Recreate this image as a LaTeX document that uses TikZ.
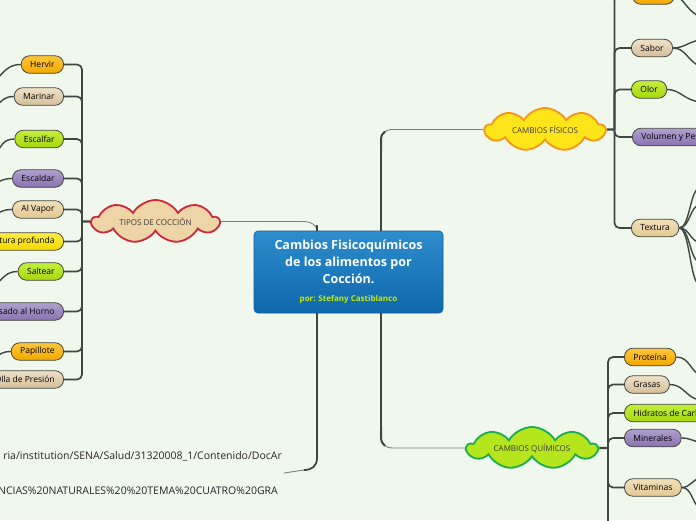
\documentclass[tikz,border=0pt]{standalone}
\usepackage{fontspec}
\setmainfont{Open Sans}
\usetikzlibrary{shapes.symbols,calc}
\definecolor{bg}{HTML}{F0F8EE}
\definecolor{edge}{HTML}{45483E}
\definecolor{spine}{HTML}{3E4842}
\definecolor{thinline}{HTML}{7A827C}
\definecolor{oT}{HTML}{FFC63A}\definecolor{oB}{HTML}{F2A900}
\definecolor{tT}{HTML}{EEE0C8}\definecolor{tB}{HTML}{D5BF9A}
\definecolor{lT}{HTML}{C4EF3C}\definecolor{lB}{HTML}{A6D80E}
\definecolor{pT}{HTML}{B0A0CE}\definecolor{pB}{HTML}{8A72B0}
\definecolor{bT}{HTML}{F3E0BB}\definecolor{bB}{HTML}{E3C893}
\definecolor{yT}{HTML}{FFEC45}\definecolor{yB}{HTML}{F5D800}
\definecolor{cbT}{HTML}{2E8DCD}\definecolor{cbB}{HTML}{0D68AC}
\definecolor{cbD}{HTML}{0B5E9C}
\definecolor{subc}{HTML}{C6E80C}
\definecolor{cloudtext}{HTML}{3A3A36}
\definecolor{tipfill}{HTML}{EDD5A8}\definecolor{tipdraw}{HTML}{D0263A}
\definecolor{fisfill}{HTML}{FDE51A}\definecolor{fisdraw}{HTML}{F7941D}
\definecolor{quifill}{HTML}{B5E61D}\definecolor{quidraw}{HTML}{19AD4E}
\tikzset{
  leafnode/.style={draw=edge, line width=0.8pt, rounded corners=8.5pt,
    minimum height=17.5pt, inner xsep=9pt, inner ysep=0pt,
    font=\fontsize{8.5}{9}\selectfont, text=black},
  cOrange/.style={leafnode, top color=oT, bottom color=oB},
  cTan/.style={leafnode, top color=tT, bottom color=tB},
  cLime/.style={leafnode, top color=lT, bottom color=lB},
  cPurple/.style={leafnode, top color=pT, bottom color=pB},
  cBeige/.style={leafnode, top color=bT, bottom color=bB},
  cYellow/.style={leafnode, top color=yT, bottom color=yB},
  cloudnode/.style={cloud, cloud puffs=9, cloud puff arc=120, cloud ignores aspect,
    line width=1.8pt, inner sep=0pt, font=\fontsize{8}{9}\selectfont, text=cloudtext},
  centerbox/.style={rectangle, rounded corners=4pt, minimum width=189pt, minimum height=82pt,
    top color=cbT, bottom color=cbB, draw=cbD, line width=0.6pt, text=white, align=center,
    font=\bfseries\fontsize{12.5}{17}\selectfont},
  urlnode/.style={align=right, inner sep=2pt, text=black!85, font=\fontsize{10.5}{35}\selectfont},
  branch/.style={draw=spine, line width=1.7pt, rounded corners=5pt},
  leafline/.style={draw=spine, line width=1.4pt},
  thinconn/.style={draw=thinline, line width=0.9pt},
  thickconn/.style={draw=spine, line width=2.8pt},
}
\begin{document}
\begin{tikzpicture}[x=1pt,y=-1pt]
\useasboundingbox (0,0) rectangle (696,520);
\clip (0,0) rectangle (696,520);
\fill[bg] (0,0) rectangle (696,520);

% central node
\node[centerbox] (center) at (348.5,272) {Cambios Fisicoquímicos\\de los alimentos por\\Cocción.\\[1pt]{\fontsize{8}{10}\selectfont\color{subc}por: Stefany Castiblanco}};
\coordinate (cTL) at ([xshift=-31.5pt]center.north);
\coordinate (cTR) at ([xshift=32.5pt]center.north);
\coordinate (cBL) at ([xshift=-31.5pt]center.south);
\coordinate (cBR) at ([xshift=32.5pt]center.south);

% clouds
\node[cloudnode, fill=tipfill, draw=tipdraw, minimum width=127pt, minimum height=43pt] (tipos) at (155.5,221.5) {TIPOS DE COCCIÓN};
\node[cloudnode, fill=fisfill, draw=fisdraw, minimum width=120pt, minimum height=43pt] (fisicos) at (545,129.5) {CAMBIOS FÍSICOS};
\node[cloudnode, fill=quifill, draw=quidraw, minimum width=130pt, minimum height=42pt] (quimicos) at (532,448) {CAMBIOS QUÍMICOS};

% url text
\node[urlnode, anchor=east] (url) at (284,473) {ria/institution/SENA/Salud/31320008\_1/Contenido/DocAr\\NCIAS\%20NATURALES\%20\%20TEMA\%20CUATRO\%20GRA\hspace*{4pt}};

% connectors from centre
\draw[thinconn] (tipos.east) -- (303,221.5) .. controls (312,221.5) and (cTL|-0,226) .. (cTL);
\draw[draw=spine, line width=1.6pt] (cTL|-0,225) -- (cTL);
\draw[thinconn] (cTR) -- (381,141) .. controls (381,133) and (385,129.5) .. (393,129.5) -- (fisicos.west);
\draw[thickconn] (cTR) -- (381,150);
\draw[draw=spine, line width=2pt] (381,152) -- (381,141) .. controls (381,136) and (382,133) .. (385,131.5);
\draw[thinconn] (cBR) -- (381,436) .. controls (381,444) and (385,448) .. (393,448) -- (quimicos.west);
\draw[thickconn] (cBR) -- (381,428);
\draw[draw=spine, line width=2pt] (381,426) -- (381,436) .. controls (381,441) and (382,444) .. (385,446);
\draw[thickconn] (cBL) -- (317,455);
\draw[draw=spine, line width=1.8pt] (317,452) -- (317,458) .. controls (317,466) and (312,470) .. (304,470);
\draw[thinconn] (304,470) -- (url.east);

% left children
\node[cOrange, anchor=east] (hervir) at (64,64.5) {Hervir};
\node[cTan, anchor=east] (marinar) at (64,96.5) {Marinar};
\node[cLime, anchor=east] (escalfar) at (64,139) {Escalfar};
\node[cPurple, anchor=east] (escaldar) at (64,178.5) {Escaldar};
\node[cBeige, anchor=east] (alvapor) at (64,209.5) {Al Vapor};
\node[cYellow, anchor=east] (fritura) at (64,241.5) {Fritura profunda};
\node[cLime, anchor=east] (saltear) at (64,271.5) {Saltear};
\node[cPurple, anchor=east] (asado) at (64,311.5) {Asado al Horno};
\node[cOrange, anchor=east] (papillote) at (64,351.5) {Papillote};
\node[cTan, anchor=east] (olla) at (64,379.5) {Olla de Presión};

\coordinate (lj) at (82,221.5);
\draw[draw=spine, line width=2.4pt] (tipos.west) -- (lj);
\foreach \n in {hervir,marinar,escalfar,escaldar,alvapor,fritura,saltear,asado,papillote,olla}
  \draw[branch] (lj) |- (\n.east);

% left grandchild stubs
\draw[leafline] (hervir.west) .. controls (8,64.5) and (4,72) .. (-4,80);
\draw[leafline] (marinar.west) .. controls (4,96.5) and (2,101) .. (-4,106);
\draw[leafline] (escalfar.west) .. controls (3,139) and (2,146) .. (-4,153);
\draw[leafline] (escaldar.west) .. controls (3,178.5) and (1,181) .. (-4,183);
\draw[leafline] (alvapor.west) .. controls (3,209.5) and (1,212) .. (-4,214);
\draw[leafline] (saltear.west) .. controls (6,271.5) and (4,278) .. (-4,284);
\draw[leafline] (papillote.west) .. controls (3,351.5) and (1,354) .. (-4,356);

% right: physical changes
\node[cOrange, anchor=west, minimum width=42pt] (color) at (632,-4.5) {};
\node[cTan, anchor=west] (sabor) at (631,48) {Sabor};
\node[cLime, anchor=west] (olor) at (631,89.5) {Olor};
\node[cPurple, anchor=west] (volumen) at (632,137) {Volumen y Peso};
\node[cBeige, anchor=west] (textura) at (631,228) {Textura};

\coordinate (pj) at (614.5,129.5);
\draw[draw=spine, line width=2.4pt] (fisicos.east) -- (pj);
\foreach \n in {color,sabor,olor,volumen,textura}
  \draw[branch] (pj) |- (\n.west);

\draw[leafline] (color.east) .. controls (684,-2) and (686,10) .. (700,17);
\draw[leafline] (sabor.east) .. controls (684,48) and (688,42) .. (700,40);
\draw[leafline] (sabor.east) .. controls (686,48) and (688,62) .. (700,66);
\draw[leafline] (olor.east) .. controls (680,89.5) and (684,100) .. (700,102);
\foreach \yy in {188,205,242,262,285}
  \draw[leafline] (textura.east) .. controls (690,228) and (690,\yy) .. (700,\yy);

% right: chemical changes
\node[cOrange, anchor=west] (proteina) at (624,357) {Proteína};
\node[cTan, anchor=west] (grasas) at (624,384.5) {Grasas};
\node[cLime, anchor=west] (hidratos) at (624,413) {Hidratos de Carbono};
\node[cPurple, anchor=west] (minerales) at (624,438) {Minerales};
\node[cBeige, anchor=west] (vitaminas) at (624,487.5) {Vitaminas};
\coordinate (qoff) at (624,540);

\coordinate (qj) at (608,448);
\draw[draw=spine, line width=2.4pt] (quimicos.east) -- (qj);
\foreach \n in {proteina,grasas,hidratos,minerales,vitaminas}
  \draw[branch] (qj) |- (\n.west);
\draw[branch] (qj) |- (qoff);

\draw[leafline] (proteina.east) .. controls (690,357) and (690,372) .. (702,376);
\draw[leafline] (grasas.east) .. controls (684,384.5) and (686,398) .. (700,400);
\draw[leafline] (minerales.east) .. controls (690,438) and (692,441) .. (700,442);
\draw[leafline] (vitaminas.east) .. controls (690,487.5) and (692,480) .. (700,478);
\draw[leafline] (vitaminas.east) .. controls (692,487.5) and (692,504) .. (700,508);
\end{tikzpicture}
\end{document}
